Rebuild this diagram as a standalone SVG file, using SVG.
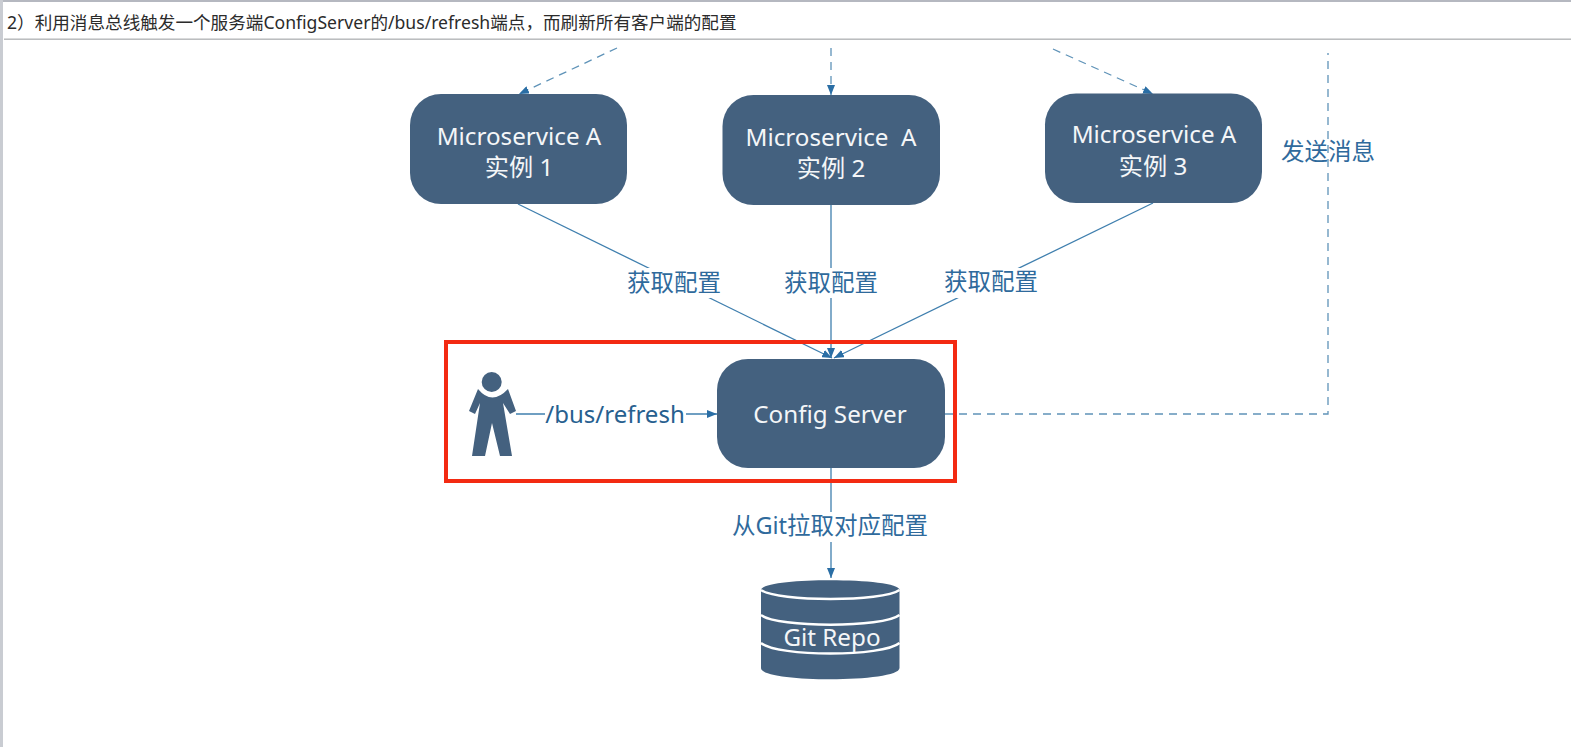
<svg xmlns="http://www.w3.org/2000/svg" width="1571" height="747" viewBox="0 0 1571 747">
<style>
.n{fill:#44617f}
.t{font-family:"Noto Sans","Noto Sans CJK SC",sans-serif;font-size:24.200px;fill:#f4f6f8;text-anchor:middle;white-space:pre}
.l{font-family:"Noto Sans","Noto Sans CJK SC",sans-serif;font-size:23.500px;fill:#2f6a9c;text-anchor:middle}
.c{fill:none;stroke:#3f7fae;stroke-width:1.3}
.d{stroke:#5f93b8;stroke-dasharray:8 6}
</style>
<defs>
<marker id="a" viewBox="0 0 10 8" refX="10" refY="4" markerWidth="10" markerHeight="8" markerUnits="userSpaceOnUse" orient="auto"><path d="M0 0L10 4L0 8Z" fill="#2a6ea5"/></marker>
</defs>
<rect width="1571" height="747" fill="#fff"/>
<g id="page-frame">
<rect x="0" y="0" width="1571" height="2" fill="#b5b8c0"/>
<rect x="0" y="0" width="3" height="747" fill="#c9ccd2"/>
<rect x="4" y="38.500" width="1567" height="1.400" fill="#b4b6b8"/>
<text x="7" y="29" font-family="'Noto Sans','Noto Sans CJK SC',sans-serif" font-size="17.600" fill="#2b2b2b">2）利用消息总线触发一个服务端ConfigServer的/bus/refresh端点，而刷新所有客户端的配置</text>
</g>
<g id="connectors">
<path class="c d" d="M617 48L519 94" marker-end="url(#a)"/>
<path class="c d" d="M831 48V95" marker-end="url(#a)"/>
<path class="c d" d="M1053 49L1153 94" marker-end="url(#a)"/>
<path class="c" d="M518 204L832 358" marker-end="url(#a)"/>
<path class="c" d="M831 205V358" marker-end="url(#a)"/>
<path class="c" d="M1153 203L834 358" marker-end="url(#a)"/>
<path class="c d" d="M945 414H1328V53"/>
<path class="c" d="M516 414H717" marker-end="url(#a)"/>
<path class="c" d="M831 468V578" marker-end="url(#a)"/>
</g>
<g id="highlight"><rect x="446" y="342" width="509" height="139" fill="none" stroke="#f32a12" stroke-width="4"/></g>
<g id="node-a1"><rect class="n" x="410" y="94" width="217" height="110" rx="31"/><text class="t" x="519" y="145">Microservice A</text><text class="t" x="519" y="176">实例 1</text></g>
<g id="node-a2"><rect class="n" x="722.500" y="95" width="217.500" height="110" rx="31"/><text class="t" x="831" y="146">Microservice  A</text><text class="t" x="831" y="177">实例 2</text></g>
<g id="node-a3"><rect class="n" x="1045" y="93.500" width="217" height="109.500" rx="31"/><text class="t" x="1154" y="143">Microservice A</text><text class="t" x="1153" y="175">实例 3</text></g>
<g id="node-config"><rect class="n" x="717" y="359" width="228" height="109" rx="31"/><text class="t" x="830" y="423">Config Server</text></g>
<g id="node-person" class="n">
<circle cx="491.700" cy="382" r="10"/>
<path d="M478 389Q492 406 508 389L516 411L510 414L503 403L512 456H500L492 423L485 456H472L480 403L475 414L469 411Z"/>
</g>
<g id="node-git">
<path class="n" d="M761 590C761 577 899.500 577 899.500 590V668C899.500 683 761 683 761 668Z"/>
<path d="M761 590C778 602 883 602 899.500 590M761 615C778 628 883 628 899.500 615M761 643C778 657 883 657 899.500 643" fill="none" stroke="#fff" stroke-width="2.500"/>
<text class="t" x="832" y="646">Git Repo</text>
</g>
<g id="labels">
<rect x="624" y="268" width="100" height="30" fill="#fff"/><text class="l" x="674" y="291">获取配置</text>
<rect x="781" y="268" width="100" height="30" fill="#fff"/><text class="l" x="831" y="291">获取配置</text>
<rect x="941" y="268" width="100" height="30" fill="#fff"/><text class="l" x="991" y="290">获取配置</text>
<text class="l" x="1328" y="160">发送消息</text>
<rect x="545" y="400" width="141" height="28" fill="#fff"/><text class="l" x="615" y="423" style="fill:#27608f;font-size:24px">/bus/refresh</text>
<rect x="729" y="512" width="204" height="30" fill="#fff"/><text class="l" x="830" y="534">从Git拉取对应配置</text>
</g>
</svg>
